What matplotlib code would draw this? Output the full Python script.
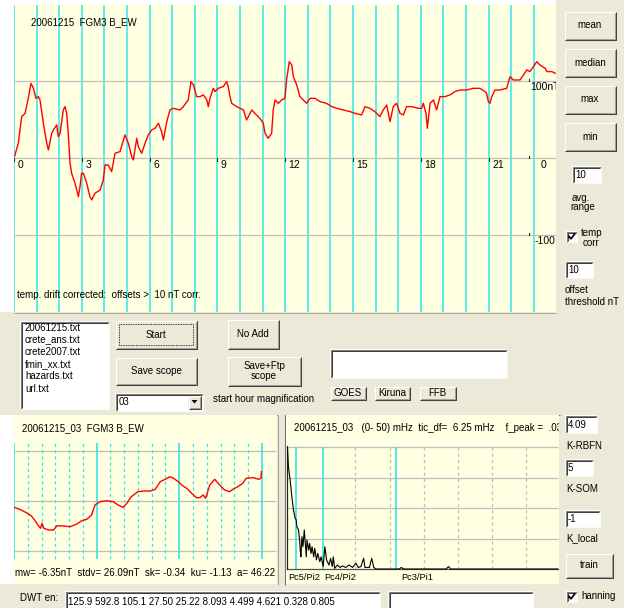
import numpy as np
import matplotlib
matplotlib.use('Agg')
import matplotlib.pyplot as plt
from matplotlib.patches import Rectangle, Polygon

# --- day overview: B_EW (nT) against hour of day ---
hours_day = [0.03, 0.19, 0.34, 0.49, 0.63, 0.75, 0.86, 0.97, 1.08, 1.15, 1.30, 1.45, 1.52,
             1.67, 1.74, 1.89, 1.96, 2.04, 2.18, 2.26, 2.33, 2.40, 2.48, 2.55, 2.70, 2.85,
             2.92, 2.99, 3.07, 3.22, 3.36, 3.44, 3.58, 3.81, 3.95, 4.03, 4.17, 4.32, 4.47,
             4.69, 4.91, 5.06, 5.21, 5.28, 5.35, 5.43, 5.50, 5.65, 5.80, 5.94, 6.09, 6.24,
             6.39, 6.53, 6.61, 6.76, 6.90, 7.05, 7.35, 7.49, 7.71, 7.83, 7.94, 8.08, 8.23,
             8.38, 8.53, 8.60, 8.67, 8.82, 8.89, 9.04, 9.26, 9.41, 9.48, 9.56, 9.63, 9.85,
             10.00, 10.15, 10.29, 10.37, 10.52, 10.66, 10.88, 11.03, 11.11, 11.25, 11.40,
             11.47, 11.55, 11.70, 11.84, 11.99, 12.06, 12.18, 12.29, 12.36, 12.51, 12.65,
             12.80, 12.95, 13.10, 13.32, 13.54, 13.83, 14.06, 14.28, 14.57, 14.87, 15.09,
             15.38, 15.53, 15.75, 15.97, 16.19, 16.34, 16.49, 16.64, 16.78, 16.93, 17.08,
             17.23, 17.37, 17.60, 17.89, 18.04, 18.11, 18.23, 18.29, 18.41, 18.56, 18.70,
             18.85, 19.07, 19.29, 19.51, 19.73, 20.03, 20.32, 20.62, 20.84, 20.91, 20.99,
             21.06, 21.14, 21.28, 21.50, 21.80, 21.95, 22.09, 22.39, 22.54, 22.69, 22.83,
             22.98, 23.13, 23.27, 23.50, 23.58, 23.80, 23.95]
bew_day = [3.0, 19.5, 54.1, 58.4, 77.9, 97.4, 90.9, 77.9, 80.1, 75.8, 45.5, 19.5, 10.8,
           32.5, 36.8, 43.3, 28.1, 32.5, 62.8, 67.1, 58.4, 32.5, -6.5, -19.5, -32.5, -49.8,
           -36.8, -19.5, -19.5, -32.5, -49.8, -54.1, -45.5, -41.1, -28.1, -8.7, -8.7, -17.3, 6.5,
           8.7, 30.3, 19.5, 2.2, -2.2, 10.8, 26.0, 15.2, 6.5, 19.5, 30.3, 36.8, 39.0,
           45.5, 34.6, 23.8, 47.6, 62.8, 64.9, 62.8, 67.1, 75.8, 99.6, 95.2, 80.1, 80.1,
           82.3, 75.8, 67.1, 77.9, 90.9, 86.6, 90.9, 93.1, 99.6, 93.1, 80.1, 71.4, 67.1,
           64.9, 62.8, 49.8, 54.1, 62.8, 58.4, 51.9, 45.5, 32.5, 26.0, 32.5,
           62.8, 75.8, 71.4, 75.8, 77.9, 101.7, 125.5, 121.2, 106.1, 95.2, 80.1,
           75.8, 71.4, 77.9, 77.9, 73.6, 71.4, 67.1, 64.9, 62.8, 60.6, 58.4,
           56.3, 67.1, 64.9, 60.6, 54.1, 62.8, 69.3, 47.6, 67.1, 71.4, 58.4,
           56.3, 67.1, 67.1, 64.9, 64.9, 71.4, 58.4, 39.0, 71.4, 75.8, 62.8,
           80.1, 80.1, 82.3, 86.6, 88.7, 88.7, 90.9, 90.9, 86.6, 84.4, 73.6,
           71.4, 80.1, 88.7, 88.7, 90.9, 106.1, 101.7, 101.7, 108.2, 114.7, 112.6,
           119.0, 125.5, 121.2, 116.9, 112.6, 112.6, 110.4]
hour_ticks = [0, 3, 6, 9, 12, 15, 18, 21]
hour_labels = ['0', '3', '6', '9', '12', '15', '18', '21']

# --- magnified 3 h window starting 03 UT (hours after start, nT) ---
zoom_t = [0.00, 0.07, 0.15, 0.21, 0.25, 0.29, 0.32, 0.34, 0.36, 0.42, 0.48, 0.52, 0.60,
          0.68, 0.76, 0.82, 0.88, 0.94, 0.98, 1.04, 1.12, 1.20, 1.26, 1.32, 1.36, 1.42,
          1.50, 1.58, 1.65, 1.71, 1.77, 1.83, 1.89, 1.93, 1.99, 2.03, 2.09, 2.15, 2.21,
          2.25, 2.29, 2.32, 2.37, 2.43, 2.49, 2.55, 2.61, 2.65, 2.71, 2.77, 2.81, 2.90,
          2.96, 2.99, 2.995]
zoom_b = [-6.3, -8.3, -11.7, -15.0, -19.0, -24.0, -27.3, -22.3, -27.3, -29.0, -29.0, -24.7, -25.0,
          -25.7, -23.0, -19.7, -18.3, -14.0, -4.0, -0.7, 0.3, -0.7, -4.0, -6.3, -3.0, 4.3,
          9.3, 10.0, 10.0, 11.7, 19.3, 21.7, 24.3, 22.7, 19.3, 16.0, 12.7, 7.7, 3.3,
          3.3, 6.0, 2.7, 16.0, 21.7, 16.0, 11.0, 9.3, 11.7, 14.3, 17.7, 22.7, 23.3,
          21.7, 22.7, 29.3]
zoom_stats = {'mw': -6.35, 'stdv': 26.09, 'sk': -0.34, 'ku': -1.13, 'a': 46.22}

# --- amplitude spectrum of the window (mHz, arbitrary units) ---
freq_mhz = [0.08, 0.26, 0.57, 0.88, 1.19, 1.49, 1.68, 1.80, 2.11, 2.30, 2.42, 2.54, 2.73,
            2.91, 3.16, 3.34, 3.53, 3.65, 3.96, 4.14, 4.39, 4.58, 4.88, 5.07, 5.38, 5.62,
            5.99, 6.24, 6.61, 6.92, 7.23, 7.66, 7.97, 8.27, 8.46, 8.71, 9.20, 9.69, 10.12,
            10.74, 11.36, 11.97, 12.59, 13.02, 13.51, 14.01, 14.25, 15.05, 15.49, 15.86,
            16.29, 20.5, 20.9, 21.3, 29.1, 29.5, 29.9, 49.5]
spec_amp = [4.01, 3.36, 2.92, 2.37, 1.93, 1.66, 1.61, 1.39, 1.28, 0.95, 0.62, 0.40, 1.06,
            0.73, 1.28, 0.84, 0.40, 0.95, 0.62, 0.84, 0.51, 0.73, 0.40, 0.68, 0.30, 0.51,
            0.24, 0.40, 0.08, 0.73, 0.30, 0.13, 0.35, 0.08, 0.40, 0.02, 0.13, 0.05, 0.10,
            0.05, 0.13, 0.05, 0.19, 0.05, 0.08, 0.35, 0.05, 0.05, 0.35, 0.05,
            0.0, 0.0, 0.05, 0.0, 0.0, 0.08, 0.0, 0.0]
band_edges = [1.67, 6.67, 20.0]
band_labels = ['Pc5/Pi2', 'Pc4/Pi2', 'Pc3/Pi1']
tic_df = 6.25

files = ['20061215.txt', 'crete_ans.txt', 'crete2007.txt', 'fmin_xx.txt', 'hazards.txt', 'url.txt']
dwt_energy = ['125.9', '592.8', '105.1', '27.50', '25.22', '8.093', '4.499', '4.621', '0.328', '0.805']

W, H = 624, 608
GUI = '#ECE9D8'
PANEL = '#FFFFE1'
CYAN = '#33E6EA'
GRID = '#BEBEBE'
FONT = 'Liberation Sans'
FS = 7

fig = plt.figure(figsize=(W / 100, H / 100), dpi=100, facecolor=GUI)
bg = fig.add_axes([0, 0, 1, 1], zorder=0)
bg.set_xlim(0, W)
bg.set_ylim(H, 0)
bg.axis('off')


def rect(x0, y0, x1, y1, fc, ec='none'):
    bg.add_patch(Rectangle((x0, y0), x1 - x0, y1 - y0, fc=fc, ec=ec, lw=0.72))


def edge(xs, ys, c, lw=0.75, **kw):
    bg.plot(xs, ys, color=c, lw=lw, solid_capstyle='butt', **kw)


def raised(x0, y0, x1, y1):
    rect(x0, y0, x1, y1, GUI)
    edge([x0 + .5, x0 + .5, x1 - .5], [y1 - .5, y0 + .5, y0 + .5], 'white')
    edge([x0 + .5, x1 - .5, x1 - .5], [y1 - .5, y1 - .5, y0 + .5], '#404040')
    edge([x0 + 1.5, x1 - 1.5, x1 - 1.5], [y1 - 1.5, y1 - 1.5, y0 + 1.5], '#A0A0A0')


def sunken(x0, y0, x1, y1):
    rect(x0, y0, x1, y1, 'white')
    edge([x0 + .5, x0 + .5, x1 - .5], [y1 - .5, y0 + .5, y0 + .5], '#808080')
    edge([x0 + 1.5, x0 + 1.5, x1 - 1.5], [y1 - 1.5, y0 + 1.5, y0 + 1.5], '#404040')
    edge([x0 + .5, x1 - .5, x1 - .5], [y1 - .5, y1 - .5, y0 + .5], '#FAFAF7')


def gtext(x, y, s, ha='left', **kw):
    bg.text(x, y, s, ha=ha, va='center', fontsize=FS, family=FONT, color='black', **kw)


def button(x0, y0, x1, y1, label, default=False):
    raised(x0, y0, x1, y1)
    if default:
        rect(x0 + .5, y0 + .5, x1 - .5, y1 - .5, 'none', ec='black')
        edge([x0 + 4, x1 - 4, x1 - 4, x0 + 4, x0 + 4], [y0 + 4, y0 + 4, y1 - 4, y1 - 4, y0 + 4],
             'black', lw=0.6, ls=(0, (1, 1)))
    gtext((x0 + x1) / 2, (y0 + y1) / 2, label, ha='center', multialignment='center',
          linespacing=1.05)


def textbox(x0, y0, x1, y1, s=''):
    sunken(x0, y0, x1, y1)
    if s:
        gtext(x0 + 3, (y0 + y1) / 2 + 0.5, s)


def checkbox(x0, y0, size=11):
    sunken(x0, y0, x0 + size, y0 + size)
    bg.plot([x0 + 3, x0 + 5, x0 + 8.5], [y0 + 5.5, y0 + 7.8, y0 + 3.2], color='black', lw=1.3)


def panel(x0, y0, x1, y1):
    ax = fig.add_axes([x0 / W, 1 - y1 / H, (x1 - x0) / W, (y1 - y0) / H], zorder=1)
    ax.set_facecolor(PANEL)
    for s in ax.spines.values():
        s.set_visible(False)
    ax.set_xticks([])
    ax.set_yticks([])
    return ax


def put(ax, x, y, s, clip=False, **kw):
    # text placed in window pixels but owned by a panel so it sits above it
    ax.text(x, y, s, transform=bg.transData, fontsize=FS, family=FONT, va='center',
            color='black', clip_on=clip, **kw)


# white margins left of the scopes
rect(0, 0, 556, 5, 'white')
rect(0, 0, 14, 312, 'white')
rect(0, 415, 14, 584, 'white')

# ---------------- day scope ----------------
PX_H, Y0, PX_NT = 22.6, 158.3, 0.77
ax1 = panel(14, 5, 556, 312)
ax1.set_xlim(0, (556 - 14) / PX_H)
ax1.set_ylim((Y0 - 312) / PX_NT, (Y0 - 5) / PX_NT)
for h in range(24):
    ax1.axvline(h, color=CYAN, lw=1.1, zorder=1)
for v in (-100, 0, 100):
    ax1.axhline(v, color=GRID, lw=0.9, zorder=1)
ax1.plot(hours_day, bew_day, color='red', lw=1.0, zorder=3)
for h, lab in zip(hour_ticks, hour_labels):
    ax1.plot([h, h], [0, -3.5], color='#303030', lw=0.8, zorder=2)
    ax1.text(h + 3.5 / PX_H, -9, lab, va='center', fontsize=FS + 0.5, family=FONT)
h_end = (529 - 14) / PX_H
for v in (100, 0, -100):
    ax1.plot([h_end, h_end], [v, v + 2.6], color='#303030', lw=0.8, zorder=2)
ax1.text(h_end + 12 / PX_H, -9, '0', va='center', fontsize=FS + 0.5, family=FONT)
ax1.text(h_end + 1 / PX_H, 92.6, '100nT', va='center', fontsize=FS + 0.5, family=FONT,
         clip_on=True)
ax1.text(h_end + 6 / PX_H, -107.4, '-100', va='center', fontsize=FS + 0.5, family=FONT)
put(ax1, 31, 22, '20061215  FGM3 B_EW')
put(ax1, 17, 295, 'temp. drift corrected:  offsets >  10 nT corr.')
edge([14, 556], [312.5, 312.5], '#A8A8A8')

# ---------------- right-hand controls ----------------
for i, lab in enumerate(['mean', 'median', 'max', 'min']):
    button(564, 11 + 37 * i, 616, 40 + 37 * i, lab)
textbox(572, 166, 601, 183, '10')
gtext(572, 198, 'avg.')
gtext(570, 207, 'range')
checkbox(566, 231)
gtext(581, 233, 'temp')
gtext(583, 243, 'corr')
textbox(565, 261, 593, 278, '10')
gtext(565, 290, 'offset')
gtext(565, 302, 'threshold nT')

# ---------------- middle controls ----------------
sunken(20, 321, 109, 409)
for i, f in enumerate(files):
    gtext(25, 328 + 12.1 * i, f)
button(115, 320, 197, 349, 'Start', default=True)
button(115, 357, 197, 385, 'Save scope')
sunken(115, 393, 203, 411)
gtext(119, 402, '03')
raised(188, 395, 201, 409)
bg.add_patch(Polygon([[191.5, 400], [197.5, 400], [194.5, 403.5]], closed=True, fc='black', ec='none'))
gtext(213, 399, 'start hour magnification')
button(227, 319, 279, 349, 'No Add')
button(227, 356, 301, 386, 'Save+Ftp\nscope')
textbox(330, 349, 507, 378)
button(330, 386, 366, 400, 'GOES')
button(374, 386, 410, 400, 'Kiruna')
button(419, 386, 456, 400, 'FFB')

# ---------------- magnified scope ----------------
PX_ZH, Y0B = 82.6, 501
ax2 = panel(14, 415, 277, 584)
ax2.set_xlim(0, (277 - 14) / PX_ZH)
ax2.set_ylim(Y0B - 584, Y0B - 415)
ax2.hlines([-50, 0, 50], 0, (276 - 14) / PX_ZH, color=GRID, lw=0.9, zorder=1)
minor = [k / 6 for k in range(1, 18) if k % 6]
ax2.vlines(minor, -58, 58, color=CYAN, lw=0.9, linestyles=(0, (2.5, 2.5)), zorder=1)
ax2.vlines(range(4), -58, 58, color=CYAN, lw=1.2, zorder=1)
ax2.plot(zoom_t, zoom_b, color='red', lw=1.0, zorder=3)
put(ax2, 22, 428, '20061215_03  FGM3 B_EW')
stats = 'mw= {mw:.2f}nT  stdv= {stdv:.2f}nT  sk= {sk:.2f}  ku= {ku:.2f}  a= {a:.2f}'.format(**zoom_stats)
put(ax2, 15, 573, stats, clip=True)
edge([14, 277.5, 277.5], [414.5, 414.5, 584.5], '#A0A0A0')

# ---------------- spectrum ----------------
PX_MHZ, X0S, Y0S, PX_A = 5.472, 287, 569, 30.5
ax3 = panel(286, 415, 559, 584)
ax3.set_xlim((286 - X0S) / PX_MHZ, (559 - X0S) / PX_MHZ)
ax3.set_ylim((Y0S - 584) / PX_A, (Y0S - 415) / PX_A)
fmax = (558 - X0S) / PX_MHZ
ax3.hlines([1, 2, 3, 4], 0, fmax, color=GRID, lw=0.9, zorder=1)
ax3.vlines(np.arange(2, 8) * tic_df, 0, 4, color=GRID, lw=0.9, linestyles=(0, (2.5, 2.5)), zorder=1)
ax3.vlines(band_edges, 0, 4, color=CYAN, lw=1.2, zorder=1)
ax3.plot([0, fmax], [0, 0], color='#505050', lw=0.9, zorder=2)
ax3.plot([0, 0], [0, 4], color='#202020', lw=0.9, zorder=2)
ax3.plot(freq_mhz, spec_amp, color='black', lw=0.8, zorder=3)
# band names hang just right of each boundary; the first one is nudged left to fit
label_x = [0.3, band_edges[1] + 0.1, band_edges[2] + 0.9]
for x, lab in zip(label_x, band_labels):
    ax3.text(x, (Y0S - 577) / PX_A, lab, va='center', fontsize=FS - 0.3, family=FONT, zorder=4)
put(ax3, 294, 428, '20061215_03   (0- 50) mHz  tic_df=  %.2f mHz    f_peak =  .03' % tic_df, clip=True)
edge([284.5, 284.5, 559.5], [584.5, 414.5, 414.5], '#707070')

# ---------------- K-index controls ----------------
textbox(565, 415, 597, 433, '4.09')
gtext(566, 446, 'K-RBFN')
textbox(565, 459, 593, 476, '5')
gtext(566, 489, 'K-SOM')
textbox(565, 510, 600, 527, '-1')
gtext(566, 538, 'K_local')
button(565, 553, 613, 578, 'train')
checkbox(566, 591)
gtext(581, 596, 'hanning')

# ---------------- wavelet energies ----------------
gtext(20, 598, 'DWT en:')
textbox(65, 591, 380, 612, ' '.join(dwt_energy))
textbox(388, 591, 533, 612)

fig.savefig('out.png', dpi=100, facecolor=GUI)
